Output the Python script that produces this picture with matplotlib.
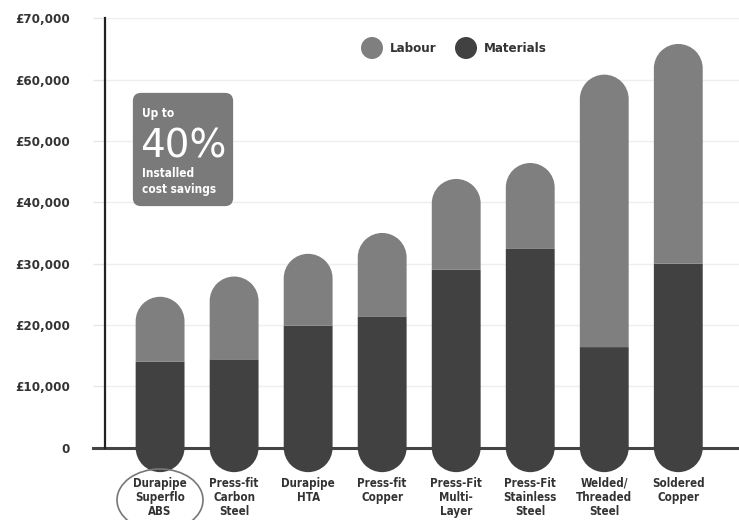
import matplotlib.pyplot as plt
from matplotlib.patches import Ellipse, FancyBboxPatch, PathPatch
from matplotlib.path import Path

plt.rcParams['font.family'] = ['DejaVu Sans']
plt.rcParams['font.stretch'] = 'condensed'

# data
categories = ['Durapipe\nSuperflo\nABS', 'Press-fit\nCarbon\nSteel', 'Durapipe\nHTA',
              'Press-fit\nCopper', 'Press-Fit\nMulti-\nLayer', 'Press-Fit\nStainless\nSteel',
              'Welded/\nThreaded\nSteel', 'Soldered\nCopper']
materials = [14000, 14400, 19900, 21400, 29000, 32400, 16400, 30000]
totals = [24600, 27900, 31600, 35000, 43800, 46400, 60800, 65800]
y_ticks = [0, 10000, 20000, 30000, 40000, 50000, 60000, 70000]
y_tick_labels = ['0', '£10,000', '£20,000', '£30,000', '£40,000', '£50,000', '£60,000', '£70,000']

labour_col = '#7f7f7f'
mat_col = '#414141'

fig = plt.figure(figsize=(7.39, 5.2), dpi=100)
ax = fig.add_axes([0.142, 0.139, 0.858, 0.826])
ax.set_xlim(-0.745, 7.82)
ax.set_ylim(0, 70000)

w = 0.66
# half-width of the bar converted to y units so the caps look round
p0 = ax.transData.transform((0, 0))
p1 = ax.transData.transform((1, 1))
ry = (w / 2) * (p1[0] - p0[0]) / (p1[1] - p0[1])


def top_segment(x, bottom, top):
    arc = Path.arc(0, 180)
    verts = [(x + w / 2 * vx, top - ry + ry * vy) for vx, vy in arc.vertices]
    codes = list(arc.codes)
    verts += [(x - w / 2, bottom), (x + w / 2, bottom), (0, 0)]
    codes += [Path.LINETO, Path.LINETO, Path.CLOSEPOLY]
    return Path(verts, codes)


def bottom_segment(x, top):
    arc = Path.arc(180, 360)
    verts = [(x + w / 2 * vx, ry * vy) for vx, vy in arc.vertices]
    codes = list(arc.codes)
    verts += [(x + w / 2, top), (x - w / 2, top), (0, 0)]
    codes += [Path.LINETO, Path.LINETO, Path.CLOSEPOLY]
    return Path(verts, codes)


xs = list(range(len(categories)))
for x, m, t in zip(xs, materials, totals):
    ax.add_patch(PathPatch(bottom_segment(x, m), fc=mat_col, lw=0, zorder=3, clip_on=False))
    ax.add_patch(PathPatch(top_segment(x, m, t), fc=labour_col, lw=0, zorder=3))

# axes styling
for s in ['top', 'right', 'bottom']:
    ax.spines[s].set_visible(False)
ax.spines['left'].set_linewidth(1.6)
ax.spines['left'].set_color('#222222')
ax.spines['left'].set_zorder(2)
ax.plot([-0.9, 7.82], [0, 0], color='#444444', lw=2.2, clip_on=False, zorder=2)

ax.set_yticks(y_ticks)
ax.set_yticklabels(y_tick_labels, fontsize=9.5, fontweight='bold', color='#333333')
ax.tick_params(axis='y', length=9, color='#e6e6e6', width=1, pad=16)
ax.yaxis.grid(True, color='#eeeeee', lw=1, zorder=0)
ax.set_xticks([])

for x, lab in zip(xs, categories):
    ax.text(x, -4700, lab, ha='center', va='top', fontsize=8.3, fontweight='bold',
            color='#333333', linespacing=1.1, clip_on=False)

# circle around first label
fig.add_artist(Ellipse((160 / 739, 1 - 500 / 520), 86 / 739, 62 / 520,
                       transform=fig.transFigure, fill=False, ec='#777777', lw=1.2))

# legend
fig.add_artist(Ellipse((372 / 739, 1 - 48 / 520), 22 / 739, 22 / 520,
                       transform=fig.transFigure, fc=labour_col, lw=0))
fig.text(390 / 739, 1 - 48 / 520, 'Labour', ha='left', va='center', fontsize=9.5,
         fontweight='bold', color='#333333')
fig.add_artist(Ellipse((466 / 739, 1 - 48 / 520), 22 / 739, 22 / 520,
                       transform=fig.transFigure, fc=mat_col, lw=0))
fig.text(484 / 739, 1 - 48 / 520, 'Materials', ha='left', va='center', fontsize=9.5,
         fontweight='bold', color='#333333')

# savings callout
fig.add_artist(FancyBboxPatch((141 / 739, 1 - 198 / 520), 84 / 739, 97 / 520,
                              boxstyle='round,pad=0.011', transform=fig.transFigure,
                              fc='#7a7a7a', lw=0, mutation_aspect=739 / 520))
fig.text(142 / 739, 1 - 114 / 520, 'Up to', ha='left', va='center', fontsize=8.5,
         fontweight='bold', color='white')
fig.text(140 / 739, 1 - 147 / 520, '40%', ha='left', va='center', fontsize=28,
         color='white', stretch='normal')
fig.text(142 / 739, 1 - 174 / 520, 'Installed', ha='left', va='center', fontsize=8.5,
         fontweight='bold', color='white')
fig.text(142 / 739, 1 - 190 / 520, 'cost savings', ha='left', va='center', fontsize=8.5,
         fontweight='bold', color='white')

fig.savefig('out.png', dpi=100)
